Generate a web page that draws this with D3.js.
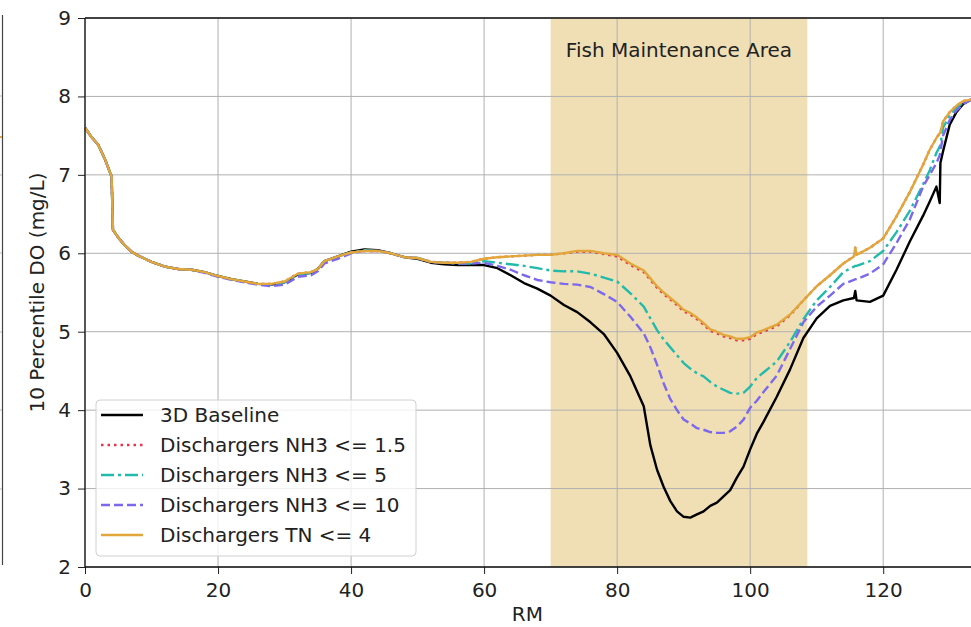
<!DOCTYPE html>
<html>
<head>
<meta charset="utf-8">
<script src="https://cdn.jsdelivr.net/npm/d3@7"></script>
<style>
  html, body { margin: 0; padding: 0; background: #fff; }
  svg { display: block; font-family: "DejaVu Sans", sans-serif; }
</style>
</head>
<body>
<svg id="chart" width="971" height="627"></svg>
<script>
// River mile positions shared by every series
const rm = [0, 1, 2, 3, 3.8, 4.0, 4.2, 5, 6, 7, 8, 9, 10, 12, 14, 16, 18, 20, 22, 24, 26, 28, 30, 32, 34, 35, 36, 38, 40, 42, 44, 46, 48, 50, 52, 54, 56, 58, 60, 62, 64, 66, 68, 70, 72, 74, 76, 78, 80, 82, 84, 85, 86, 87, 88, 89, 90, 91, 92, 93, 94, 95, 96, 97, 98, 99, 100, 101, 102, 104, 106, 108, 110, 112, 114, 115.6, 115.8, 116, 118, 120, 122, 124, 126, 127, 128, 128.5, 128.6, 129, 130, 131, 132, 133.2];

// 10th percentile DO (mg/L) for each scenario
const baseline = [7.60, 7.48, 7.38, 7.20, 7.02, 6.98, 6.30, 6.20, 6.10, 6.02, 5.97, 5.93, 5.89, 5.83, 5.80, 5.79, 5.76, 5.71, 5.67, 5.64, 5.61, 5.60, 5.63, 5.73, 5.75, 5.80, 5.90, 5.96, 6.02, 6.05, 6.04, 6.00, 5.95, 5.93, 5.88, 5.86, 5.85, 5.85, 5.85, 5.81, 5.72, 5.62, 5.55, 5.46, 5.34, 5.25, 5.12, 4.97, 4.73, 4.43, 4.05, 3.55, 3.24, 3.02, 2.84, 2.71, 2.64, 2.63, 2.67, 2.71, 2.78, 2.82, 2.90, 2.98, 3.14, 3.28, 3.50, 3.70, 3.85, 4.17, 4.52, 4.92, 5.17, 5.33, 5.40, 5.43, 5.52, 5.40, 5.38, 5.46, 5.79, 6.15, 6.48, 6.66, 6.85, 6.64, 7.15, 7.30, 7.64, 7.80, 7.90, 7.96];
const nh3_1_5 = [7.60, 7.48, 7.38, 7.20, 7.02, 6.98, 6.30, 6.20, 6.10, 6.02, 5.97, 5.93, 5.89, 5.83, 5.80, 5.79, 5.76, 5.71, 5.67, 5.64, 5.61, 5.61, 5.64, 5.74, 5.76, 5.80, 5.90, 5.96, 6.01, 6.03, 6.03, 6.00, 5.95, 5.94, 5.89, 5.88, 5.88, 5.89, 5.93, 5.95, 5.96, 5.97, 5.98, 5.98, 6.00, 6.02, 6.02, 5.99, 5.96, 5.85, 5.76, 5.66, 5.56, 5.48, 5.41, 5.34, 5.26, 5.22, 5.16, 5.09, 5.01, 4.98, 4.94, 4.92, 4.89, 4.89, 4.91, 4.97, 5.00, 5.07, 5.21, 5.40, 5.58, 5.72, 5.87, 5.96, 6.07, 5.98, 6.07, 6.19, 6.47, 6.78, 7.13, 7.32, 7.47, 7.53, 7.54, 7.68, 7.80, 7.88, 7.94, 7.96];
const nh3_5 = [7.60, 7.48, 7.38, 7.20, 7.02, 6.98, 6.30, 6.20, 6.10, 6.02, 5.97, 5.93, 5.89, 5.83, 5.80, 5.79, 5.76, 5.71, 5.67, 5.64, 5.61, 5.60, 5.63, 5.73, 5.75, 5.80, 5.90, 5.96, 6.01, 6.04, 6.03, 6.00, 5.95, 5.94, 5.89, 5.88, 5.87, 5.87, 5.90, 5.88, 5.86, 5.84, 5.81, 5.78, 5.77, 5.77, 5.74, 5.69, 5.64, 5.49, 5.32, 5.17, 5.02, 4.90, 4.80, 4.70, 4.60, 4.53, 4.47, 4.43, 4.36, 4.30, 4.26, 4.22, 4.21, 4.22, 4.30, 4.41, 4.48, 4.62, 4.87, 5.16, 5.40, 5.57, 5.76, 5.83, 5.84, 5.84, 5.90, 6.03, 6.27, 6.54, 6.88, 7.06, 7.28, 7.36, 7.38, 7.60, 7.76, 7.85, 7.92, 7.96];
const nh3_10 = [7.60, 7.48, 7.38, 7.20, 7.02, 6.98, 6.30, 6.20, 6.10, 6.02, 5.97, 5.93, 5.89, 5.83, 5.80, 5.79, 5.75, 5.70, 5.66, 5.63, 5.60, 5.58, 5.60, 5.70, 5.72, 5.77, 5.87, 5.93, 6.00, 6.03, 6.03, 6.00, 5.95, 5.94, 5.89, 5.88, 5.87, 5.87, 5.88, 5.84, 5.79, 5.72, 5.66, 5.63, 5.61, 5.60, 5.57, 5.48, 5.38, 5.19, 4.98, 4.80, 4.58, 4.34, 4.14, 4.00, 3.88, 3.83, 3.77, 3.75, 3.72, 3.71, 3.71, 3.73, 3.79, 3.88, 4.03, 4.12, 4.23, 4.44, 4.78, 5.12, 5.32, 5.46, 5.61, 5.66, 5.67, 5.67, 5.74, 5.86, 6.13, 6.43, 6.85, 7.00, 7.15, 7.25, 7.30, 7.50, 7.70, 7.82, 7.90, 7.96];
const tn_4 = [7.60, 7.48, 7.38, 7.20, 7.02, 6.98, 6.30, 6.20, 6.10, 6.02, 5.97, 5.93, 5.89, 5.83, 5.80, 5.79, 5.76, 5.71, 5.67, 5.64, 5.61, 5.61, 5.64, 5.74, 5.76, 5.80, 5.90, 5.96, 6.01, 6.03, 6.03, 6.00, 5.95, 5.94, 5.89, 5.88, 5.88, 5.89, 5.93, 5.95, 5.96, 5.97, 5.98, 5.98, 6.00, 6.03, 6.03, 6.00, 5.98, 5.87, 5.78, 5.68, 5.58, 5.50, 5.43, 5.36, 5.28, 5.24, 5.18, 5.11, 5.03, 5.00, 4.96, 4.94, 4.91, 4.91, 4.93, 4.99, 5.02, 5.09, 5.22, 5.40, 5.58, 5.72, 5.87, 5.96, 6.07, 5.98, 6.07, 6.19, 6.47, 6.78, 7.13, 7.32, 7.47, 7.53, 7.54, 7.68, 7.80, 7.88, 7.94, 7.96];

const seriesNames = ["3D Baseline", "Dischargers NH3 <= 1.5", "Dischargers NH3 <= 5", "Dischargers NH3 <= 10", "Dischargers TN <= 4"];
const seriesValues = [baseline, nh3_1_5, nh3_5, nh3_10, tn_4];
const seriesColors = ["#000000", "#e8344e", "#22bbab", "#7b68ee", "#e2a73a"];
const seriesDashes = [null, "2.5,4", "13,4,3,4", "9,4", null];
const drawOrder = [0, 1, 2, 3, 4];

const xTicks = [0, 20, 40, 60, 80, 100, 120];
const yTicks = [2, 3, 4, 5, 6, 7, 8, 9];
const fishArea = [70, 108.6];
const fishLabel = "Fish Maintenance Area";
const xLabel = "RM";
const yLabel = "10 Percentile DO (mg/L)";

const FONT = 20;
const svg = d3.select("#chart");
const margin = { left: 85, top: 18, bottom: 567 };
const x = d3.scaleLinear().domain([0, 133.2]).range([margin.left, 971]);
const y = d3.scaleLinear().domain([2, 9]).range([margin.bottom, margin.top]);

// edge of the neighbouring panel on the left
const edge = svg.append("g");
edge.append("line").attr("x1", 2.5).attr("x2", 2.5).attr("y1", 15).attr("y2", 565)
  .attr("stroke", "#444").attr("stroke-width", 1.2);
[96, 175, 253, 332, 410, 489].forEach(v => {
  edge.append("line").attr("x1", 0).attr("x2", 2).attr("y1", v).attr("y2", v)
    .attr("stroke", "#bbb").attr("stroke-width", 1);
});
edge.append("line").attr("x1", 0).attr("x2", 2).attr("y1", 137).attr("y2", 137)
  .attr("stroke", "#e2a73a").attr("stroke-width", 2);

// shaded fish maintenance reach
svg.append("rect")
  .attr("x", x(fishArea[0])).attr("y", margin.top)
  .attr("width", x(fishArea[1]) - x(fishArea[0]))
  .attr("height", margin.bottom - margin.top)
  .attr("fill", "#f0dfb4");

// grid
const grid = svg.append("g").attr("stroke", "#b0b0b0").attr("stroke-width", 1);
xTicks.forEach(t => grid.append("line").attr("x1", x(t)).attr("x2", x(t))
  .attr("y1", margin.top).attr("y2", margin.bottom));
yTicks.forEach(t => grid.append("line").attr("x1", margin.left).attr("x2", 971)
  .attr("y1", y(t)).attr("y2", y(t)));

svg.append("text")
  .attr("x", x((fishArea[0] + fishArea[1]) / 2)).attr("y", 57)
  .attr("text-anchor", "middle").attr("font-size", FONT).attr("fill", "#222")
  .text(fishLabel);

// series lines
const line = d3.line().x((d, i) => x(rm[i])).y(d => y(d));
drawOrder.forEach(k => {
  svg.append("path")
    .datum(seriesValues[k])
    .attr("d", line)
    .attr("fill", "none")
    .attr("stroke", seriesColors[k])
    .attr("stroke-width", 2.4)
    .attr("stroke-dasharray", seriesDashes[k])
    .attr("stroke-linejoin", "round");
});

// axes
const xAxis = svg.append("g").attr("transform", `translate(0,${margin.bottom})`)
  .call(d3.axisBottom(x).tickValues(xTicks).tickSize(7).tickPadding(7).tickFormat(d3.format("d")));
const yAxis = svg.append("g").attr("transform", `translate(${margin.left},0)`)
  .call(d3.axisLeft(y).tickValues(yTicks).tickSize(7).tickPadding(7).tickFormat(d3.format("d")));
[xAxis, yAxis].forEach(a => {
  a.select(".domain").remove();
  a.selectAll("text").attr("font-size", FONT).attr("fill", "#222").attr("font-family", "DejaVu Sans, sans-serif");
  a.selectAll("line").attr("stroke", "#222");
});
xAxis.selectAll("text").attr("dy", "0.8em");

// spines
svg.append("line").attr("x1", margin.left).attr("x2", margin.left)
  .attr("y1", margin.top).attr("y2", margin.bottom).attr("stroke", "#111").attr("stroke-width", 1.3);
svg.append("line").attr("x1", margin.left).attr("x2", 971)
  .attr("y1", margin.bottom).attr("y2", margin.bottom).attr("stroke", "#111").attr("stroke-width", 1.3);
svg.append("line").attr("x1", margin.left).attr("x2", 971)
  .attr("y1", margin.top).attr("y2", margin.top).attr("stroke", "#111").attr("stroke-width", 1.3);

// axis titles
svg.append("text").attr("x", x(66.5)).attr("y", 621).attr("text-anchor", "middle")
  .attr("font-size", FONT).attr("fill", "#222").text(xLabel);
svg.append("text").attr("transform", `translate(37,${(margin.top + margin.bottom) / 2}) rotate(-90)`)
  .attr("text-anchor", "middle").attr("dy", "0.35em").attr("font-size", FONT).attr("fill", "#222").text(yLabel);

// legend
const legend = svg.append("g").attr("transform", "translate(96,400)");
legend.append("rect").attr("width", 320).attr("height", 156).attr("rx", 4)
  .attr("fill", "rgba(255,255,255,0.8)").attr("stroke", "#d0d0d0").attr("stroke-width", 1);
seriesNames.forEach((name, k) => {
  const ry = 15 + k * 30;
  legend.append("line").attr("x1", 5).attr("x2", 47).attr("y1", ry).attr("y2", ry)
    .attr("stroke", seriesColors[k]).attr("stroke-width", 2.5)
    .attr("stroke-dasharray", seriesDashes[k]);
  legend.append("text").attr("x", 64).attr("y", ry).attr("dy", "0.35em")
    .attr("font-size", FONT).attr("fill", "#222").text(name);
});
</script>
</body>
</html>
